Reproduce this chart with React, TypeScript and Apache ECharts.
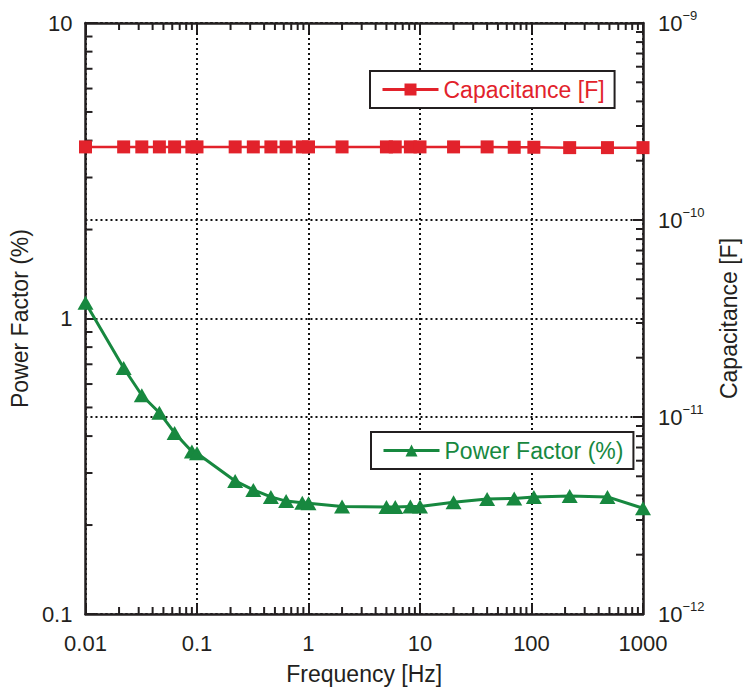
import React, { useEffect, useRef } from 'react';
import * as echarts from 'echarts';

const frequencies = [0.01, 0.022, 0.032, 0.046, 0.063, 0.09, 0.1, 0.22, 0.32, 0.46, 0.63, 0.88, 1, 2, 5, 6, 8.2, 10, 20, 40, 70, 105, 220, 480, 1000];
const powerFactor = [1.13, 0.68, 0.55, 0.48, 0.41, 0.355, 0.35, 0.282, 0.263, 0.249, 0.241, 0.238, 0.237, 0.231, 0.23, 0.23, 0.231, 0.231, 0.239, 0.245, 0.246, 0.249, 0.251, 0.249, 0.228];
const capacitance = [2.35e-10, 2.35e-10, 2.35e-10, 2.35e-10, 2.35e-10, 2.35e-10, 2.35e-10, 2.35e-10, 2.35e-10, 2.35e-10, 2.35e-10, 2.35e-10, 2.35e-10, 2.35e-10, 2.35e-10, 2.35e-10, 2.35e-10, 2.35e-10, 2.35e-10, 2.35e-10, 2.34e-10, 2.34e-10, 2.33e-10, 2.33e-10, 2.33e-10];

const xDecades = [0.01, 0.1, 1, 10, 100];
const pfDecades = [0.1, 1];
const capDecades = [1e-12, 1e-11, 1e-10];
const minorSteps = [2, 3, 4, 5, 6, 7, 8, 9];

const RED = '#e2222b';
const GREEN = '#17883f';
const INK = '#231f20';
const FONT = "'Liberation Sans', Arial, Helvetica, sans-serif";

export default function App() {
  const ref = useRef<HTMLDivElement>(null);
  useEffect(() => {
    if (!ref.current) return;
    const chart = echarts.init(ref.current, undefined, { renderer: 'svg' });

    const xMinor = xDecades.flatMap((d) => minorSteps.map((s) => [d * s, 1]));
    const pfMinor = pfDecades.flatMap((d) => minorSteps.map((s) => [0.01, d * s]));
    const capMinor = capDecades.flatMap((d) => minorSteps.map((s) => [0.01, d * s]));

    const tickLen = 7;
    const lineStyle = { stroke: INK, lineWidth: 2 };

    const tickSeries = (kind: string, data: number[][], yAxisIndex: number) => ({
      type: 'custom',
      silent: true,
      z: 1,
      clip: false,
      yAxisIndex,
      data,
      renderItem: (params: any, api: any) => {
        const cs = params.coordSys;
        const p = api.coord([api.value(0), api.value(1)]);
        if (kind === 'x') {
          return {
            type: 'group',
            children: [
              { type: 'line', shape: { x1: p[0], y1: cs.y + cs.height, x2: p[0], y2: cs.y + cs.height - tickLen }, style: lineStyle },
              { type: 'line', shape: { x1: p[0], y1: cs.y, x2: p[0], y2: cs.y + tickLen }, style: lineStyle },
            ],
          };
        }
        if (kind === 'yl') {
          return { type: 'line', shape: { x1: cs.x, y1: p[1], x2: cs.x + tickLen, y2: p[1] }, style: lineStyle };
        }
        return { type: 'line', shape: { x1: cs.x + cs.width, y1: p[1], x2: cs.x + cs.width - tickLen, y2: p[1] }, style: lineStyle };
      },
    });

    const grid = { type: [2, 3], color: '#111', width: 2 };
    const axisLine = { show: true, lineStyle: { color: INK, width: 2.5 } };
    const majorTick = { show: true, inside: true, length: 10, lineStyle: { color: INK, width: 2 } };
    const labelBase = { color: INK, fontSize: 22, fontFamily: FONT };
    const nameStyle = { color: INK, fontSize: 23, fontFamily: FONT };

    const legendBase = {
      itemWidth: 56,
      itemHeight: 15,
      padding: [7, 10, 7, 11],
      borderColor: INK,
      borderWidth: 2,
      borderRadius: 0,
      backgroundColor: '#fff',
      lineStyle: { width: 3 },
    };

    const option: any = {
      animation: false,
      backgroundColor: '#fff',
      textStyle: { fontFamily: FONT },
      grid: { left: 83, right: 104, top: 23, bottom: 77, containLabel: false },
      legend: [
        {
          ...legendBase,
          data: [{ name: 'Capacitance [F]', textStyle: { color: RED } }],
          left: 370,
          top: 71,
          textStyle: { fontSize: 23, fontFamily: FONT, color: RED },
        },
        {
          ...legendBase,
          data: [{ name: 'Power Factor (%)', textStyle: { color: GREEN } }],
          left: 371,
          top: 432,
          textStyle: { fontSize: 23, fontFamily: FONT, color: GREEN },
        },
      ],
      xAxis: [
        {
          type: 'log',
          logBase: 10,
          min: 0.01,
          max: 1000,
          position: 'bottom',
          name: 'Frequency [Hz]',
          nameLocation: 'middle',
          nameGap: 48,
          nameTextStyle: nameStyle,
          axisLine,
          axisTick: majorTick,
          axisLabel: { ...labelBase, margin: 18, formatter: (v: number) => String(v) },
          splitLine: { show: true, lineStyle: grid },
        },
        {
          type: 'log',
          logBase: 10,
          min: 0.01,
          max: 1000,
          position: 'top',
          axisLine,
          axisTick: majorTick,
          axisLabel: { show: false },
          splitLine: { show: false },
        },
      ],
      yAxis: [
        {
          type: 'log',
          logBase: 10,
          min: 0.1,
          max: 10,
          position: 'left',
          name: 'Power Factor (%)',
          nameLocation: 'middle',
          nameRotate: 90,
          nameGap: 40,
          nameTextStyle: nameStyle,
          axisLine,
          axisTick: majorTick,
          axisLabel: { ...labelBase, margin: 13, formatter: (v: number) => String(v) },
          splitLine: { show: true, lineStyle: grid },
        },
        {
          type: 'log',
          logBase: 10,
          min: 1e-12,
          max: 1e-9,
          position: 'right',
          name: 'Capacitance [F]',
          nameLocation: 'middle',
          nameRotate: 90,
          nameGap: 74,
          nameTextStyle: nameStyle,
          axisLine,
          axisTick: majorTick,
          axisLabel: {
            ...labelBase,
            margin: 15,
            formatter: (v: number) => {
              const e = Math.round(Math.log10(v));
              return `{b|10}{s|\u2212${-e}}`;
            },
            rich: {
              b: { fontSize: 22, fontFamily: FONT, color: INK },
              s: { fontSize: 13, fontFamily: FONT, color: INK, padding: [0, 0, 15, 0] },
            },
          },
          splitLine: { show: true, lineStyle: grid },
        },
      ],
      series: [
        tickSeries('x', xMinor, 0),
        tickSeries('yl', pfMinor, 0),
        tickSeries('yr', capMinor, 1),
        {
          name: 'Capacitance [F]',
          type: 'line',
          yAxisIndex: 1,
          z: 3,
          data: frequencies.map((f, i) => [f, capacitance[i]]),
          symbol: 'rect',
          symbolSize: 13,
          showAllSymbol: true,
          itemStyle: { color: RED },
          lineStyle: { color: RED, width: 2.5 },
        },
        {
          name: 'Power Factor (%)',
          type: 'line',
          yAxisIndex: 0,
          z: 3,
          data: frequencies.map((f, i) => [f, powerFactor[i]]),
          symbol: 'triangle',
          symbolSize: [16, 14],
          showAllSymbol: true,
          itemStyle: { color: GREEN },
          lineStyle: { color: GREEN, width: 3 },
        },
      ],
    };

    chart.setOption(option);
    return () => chart.dispose();
  }, []);

  return <div ref={ref} style={{ position: 'absolute', left: 0, top: 0, width: 748, height: 691, background: '#fff' }} />;
}
